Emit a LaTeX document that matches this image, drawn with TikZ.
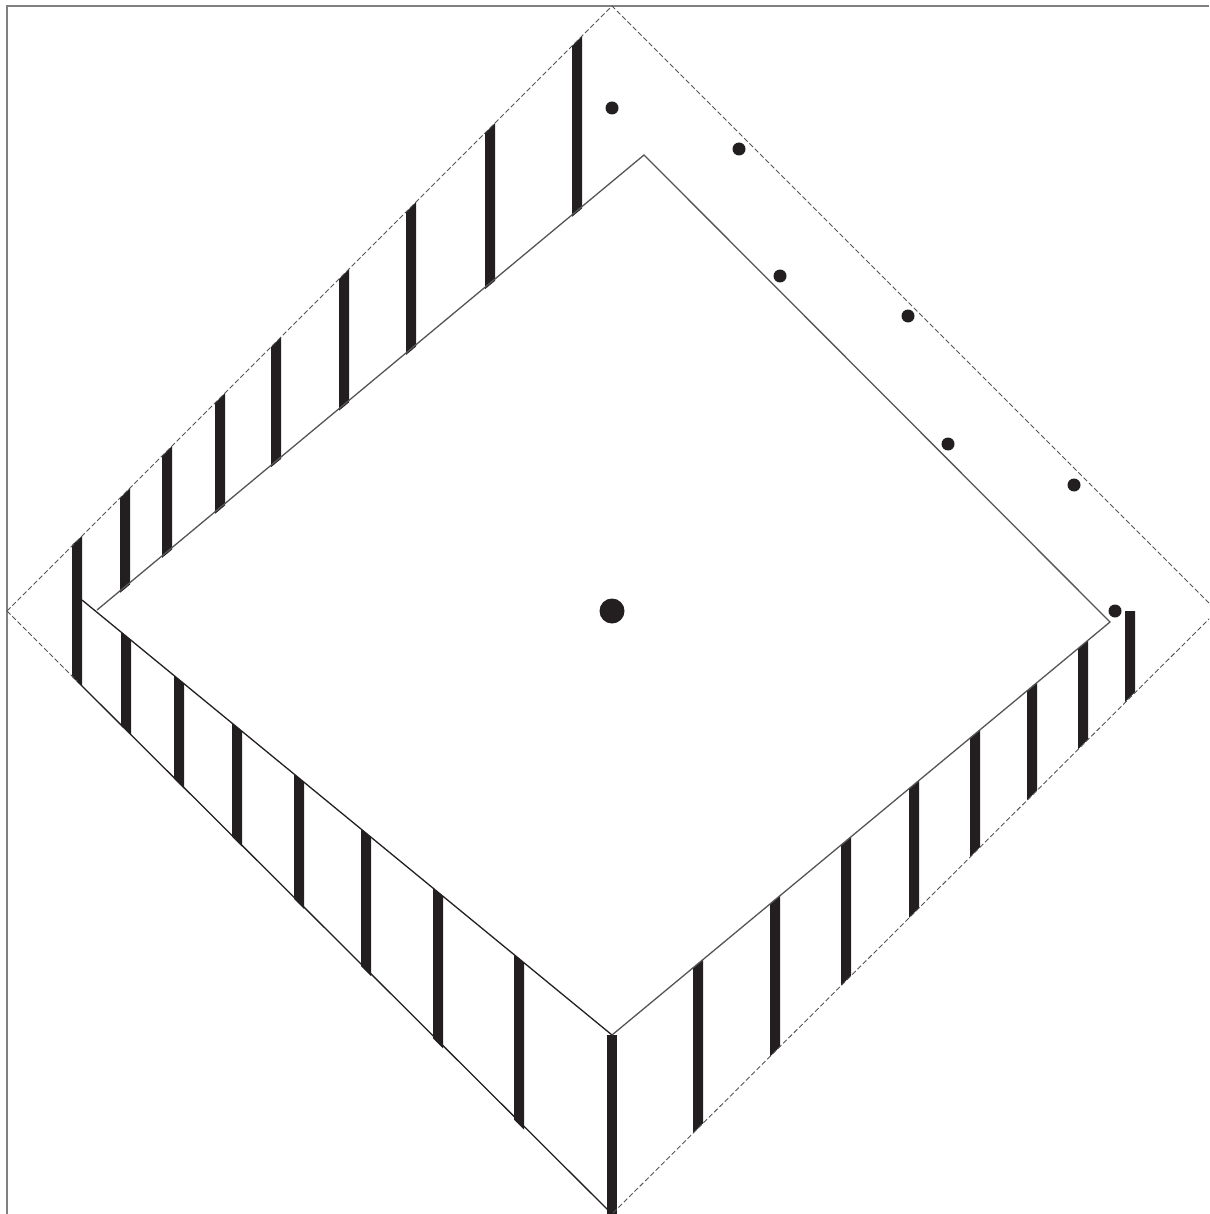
\documentclass[tikz,border=0pt]{standalone}
\usepackage{tikz}
\definecolor{barblack}{HTML}{231F20}
\definecolor{framegray}{HTML}{808080}
\definecolor{edgegray}{HTML}{555555}
\tikzset{
  frameline/.style={framegray,line width=1.2pt},
  outerline/.style={edgegray,line width=0.9pt,dash pattern=on 5pt off 2.5pt},
  innerline/.style={edgegray,line width=1.3pt},
  solidline/.style={barblack,line width=1.3pt},
}
\begin{document}
\begin{tikzpicture}[x=1pt,y=-1pt]
    \useasboundingbox (0,0) rectangle (1209,1214);
    \clip (0,0) rectangle (1209,1214);
    \coordinate (framecorner) at (7,6);
    \coordinate (frameleft) at (7,1214);
    \coordinate (frameright) at (1209,6);
    \coordinate (outertop) at (612,6);
    \coordinate (outerright) at (1217,611);
    \coordinate (outerbottom) at (612,1214);
    \coordinate (outerleft) at (7,611);
    \coordinate (outersolid) at (77,681);
    \coordinate (innertop) at (644,155);
    \coordinate (innerright) at (1110,622);
    \coordinate (innerbottom) at (612,1035);
    \coordinate (innerleft) at (97,610);
    \coordinate (innerstub) at (82,600);
    \draw[frameline] (frameleft)--(framecorner)--(frameright);
    % upper left bars
    \foreach \x in {125,167,220,276,344,411,490,577}{
      \fill[barblack] (\x-5,{618-\x+5})--(\x+5,{618-\x-5})
        --(\x+5,{612-0.832*(\x+5-97)})--(\x-5,{612-0.832*(\x-5-97)})--cycle;}
    % lower left bars
    \foreach \x in {126,179,237,299,366,438,519}{
      \fill[barblack] (\x-5,{600+0.821*(\x-5-82)})--(\x+5,{600+0.821*(\x+5-82)})
        --(\x+5,{611+1.003*(\x+5-7)})--(\x-5,{611+1.003*(\x-5-7)})--cycle;}
    % lower right bars
    \foreach \x in {698,775,846,914,975,1032,1083}{
      \fill[barblack] (\x-5,{1035-0.829*(\x-5-612)})--(\x+5,{1035-0.829*(\x+5-612)})
        --(\x+5,{1214-0.997*(\x+5-612)})--(\x-5,{1214-0.997*(\x-5-612)})--cycle;}
    \fill[barblack] (1125,611)--(1135,611)--(1135,692)--(1125,702)--cycle;
    \fill[barblack] (607,1035)--(617,1035)--(617,1214)--(607,1214)--cycle;
    \fill[barblack] (72,545)--(82,536)--(82,686)--(72,677)--cycle;
    \draw[outerline] (outerleft)--(outertop)--(outerright);
    \draw[outerline] (outerright)--(outerbottom);
    \draw[outerline] (outerleft)--(outersolid);
    \draw[solidline] (outersolid)--(outerbottom);
    \draw[innerline] (innerleft)--(innertop)--(innerright)--(innerbottom);
    \draw[solidline] (innerbottom)--(innerstub);
    \foreach \x/\y in {612/108,739/149,780/276,908/316,948/444,1074/485,1115/611}{
      \fill[barblack] (\x,\y) circle (6.5);}
    \fill[barblack] (612,611) circle (12.5);
  \end{tikzpicture}
\end{document}
